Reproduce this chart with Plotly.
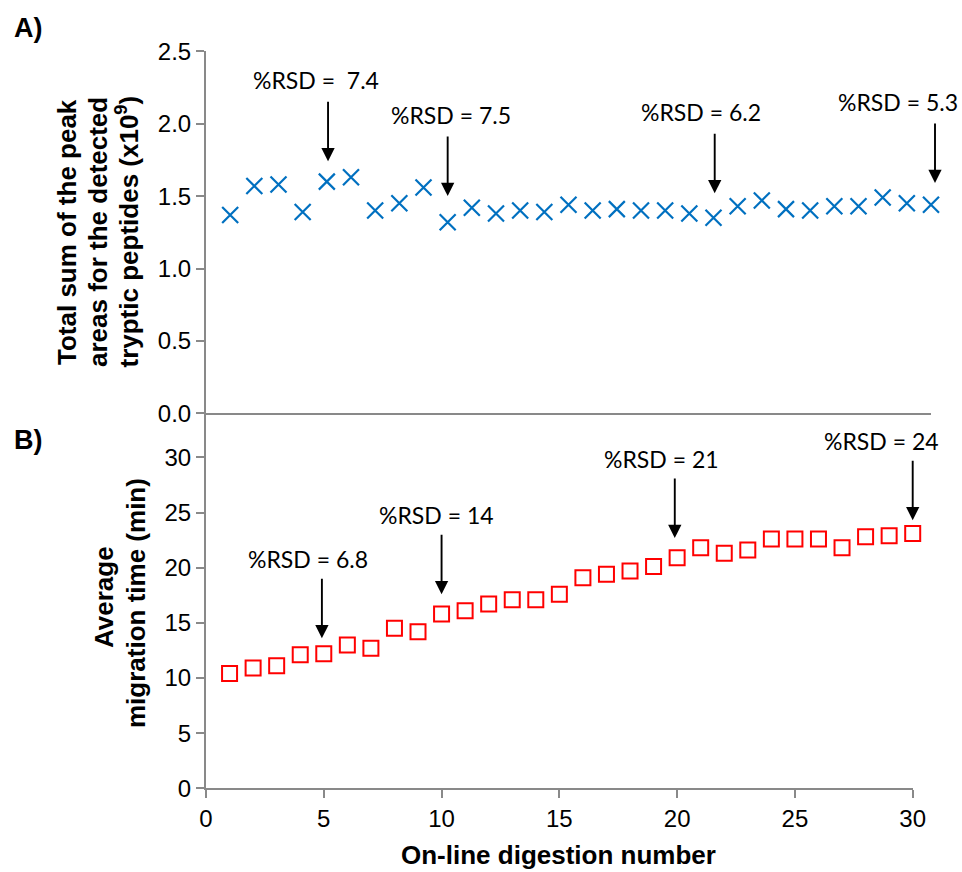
import plotly.graph_objects as go

# ---- data ----
digestion = list(range(1, 31))
peak_area_sum = [1.37, 1.57, 1.58, 1.39, 1.60, 1.63, 1.40, 1.45, 1.56, 1.32,
                 1.42, 1.38, 1.40, 1.39, 1.44, 1.40, 1.41, 1.40, 1.40, 1.38,
                 1.35, 1.43, 1.47, 1.41, 1.40, 1.43, 1.43, 1.49, 1.45, 1.44]
migration_time = [10.4, 10.9, 11.1, 12.1, 12.2, 13.0, 12.7, 14.5, 14.2, 15.8,
                  16.1, 16.7, 17.1, 17.1, 17.6, 19.1, 19.4, 19.7, 20.1, 20.9,
                  21.8, 21.3, 21.6, 22.6, 22.6, 22.6, 21.8, 22.8, 22.9, 23.1]

rsd_a_labels = ["%RSD =  7.4", "%RSD = 7.5", "%RSD = 6.2", "%RSD = 5.3"]
rsd_a_x = [5.05, 10.0, 21.05, 30.0]
rsd_a_tip = [1.74, 1.50, 1.52, 1.59]

rsd_b_labels = ["%RSD = 6.8", "%RSD = 14", "%RSD = 21", "%RSD = 24"]
rsd_b_x = [4.92, 10.0, 19.9, 30.0]
rsd_b_tip = [13.6, 17.6, 22.7, 24.3]

yticks_a = [0.0, 0.5, 1.0, 1.5, 2.0, 2.5]
yticks_b = [0, 5, 10, 15, 20, 25, 30]
xticks_b = [0, 5, 10, 15, 20, 25, 30]

# body margin is removed (post_script) so the figure fills the 962x872 window
W, H = 962, 872
def px(x):
    return x / W
def py(y):
    return 1 - y / H

axis_color = "#898989"
tick_font = dict(family="Liberation Sans, Arial", size=24, color="black")
ann_font = dict(family="Lato, Open Sans", size=23, color="black")
title_font = dict(family="Liberation Sans, Arial", size=26, color="black")
panel_font = dict(family="Liberation Sans, Arial", size=27, color="black")

fig = go.Figure()
fig.add_trace(go.Scatter(
    x=digestion, y=peak_area_sum, mode="markers", xaxis="x", yaxis="y",
    cliponaxis=False,
    marker=dict(symbol="x-thin", size=16, line=dict(color="#0070C0", width=2.2)),
    showlegend=False))
fig.add_trace(go.Scatter(
    x=digestion, y=migration_time, mode="markers", xaxis="x2", yaxis="y2",
    cliponaxis=False,
    marker=dict(symbol="square-open", size=15, color="#FF0000",
                line=dict(color="#FF0000", width=2)),
    showlegend=False))

common_axis = dict(showline=True, linecolor=axis_color, linewidth=2,
                   showgrid=False, zeroline=False, mirror=False)

fig.update_layout(
    width=W, height=H,
    margin=dict(l=0, r=0, t=0, b=0, autoexpand=False),
    paper_bgcolor="white", plot_bgcolor="white",
    xaxis=dict(domain=[px(206), px(931)], range=[0, 30], anchor="y",
               showticklabels=False, ticks="", **common_axis),
    yaxis=dict(domain=[py(413.3), py(51.3)], range=[0, 2.5], anchor="x",
               tickvals=yticks_a, ticktext=[f"{v:.1f}" for v in yticks_a],
               ticks="outside", ticklen=8, tickwidth=2, tickcolor=axis_color,
               tickfont=tick_font, **common_axis),
    xaxis2=dict(domain=[px(206), px(912.7)], range=[0, 30], anchor="y2",
                tickvals=xticks_b, ticks="outside", ticklen=8, tickwidth=2,
                tickcolor=axis_color, tickfont=tick_font, **common_axis),
    yaxis2=dict(domain=[py(788.3), py(413.3)], range=[0, 34], anchor="x2",
                tickvals=yticks_b, ticks="outside", ticklen=8, tickwidth=2,
                tickcolor=axis_color, tickfont=tick_font, **common_axis),
)

annotations = []
shift_a = [-12, 3, -14, -37]
shift_b = [-14, -5, -13, -31]
tipx_a = [0, 0, 0, 4]
for lab, xv, tip, sx, tx in zip(rsd_a_labels, rsd_a_x, rsd_a_tip, shift_a, tipx_a):
    annotations.append(dict(x=xv, y=tip, xref="x", yref="y", text="",
                            showarrow=True, arrowhead=2, arrowsize=1.4,
                            arrowwidth=1.9, arrowcolor="black", ax=0, ay=-61,
                            xshift=tx))
    annotations.append(dict(x=xv, y=tip, xref="x", yref="y", text=lab,
                            showarrow=False, yshift=81, xshift=sx + tx,
                            font=ann_font))
for lab, xv, tip, sx in zip(rsd_b_labels, rsd_b_x, rsd_b_tip, shift_b):
    annotations.append(dict(x=xv, y=tip, xref="x2", yref="y2", text="",
                            showarrow=True, arrowhead=2, arrowsize=1.4,
                            arrowwidth=1.9, arrowcolor="black", ax=0, ay=-61))
    annotations.append(dict(x=xv, y=tip, xref="x2", yref="y2", text=lab,
                            showarrow=False, yshift=79, xshift=sx,
                            font=ann_font))

# axis titles (one annotation per line for tight line spacing)
title_a = ["Total sum of the peak", "areas for the detected",
           "tryptic peptides (x10<sup>9</sup>)"]
for line, cx in zip(title_a, [67, 98, 128.5]):
    annotations.append(dict(x=px(cx), y=py(232), xref="paper", yref="paper",
                            text=f"<b>{line}</b>", textangle=-90, showarrow=False,
                            font=title_font, xanchor="center", yanchor="middle"))
title_b = ["Average", "migration time (min)"]
for line, cx, cy in zip(title_b, [104, 136], [597, 603]):
    annotations.append(dict(x=px(cx), y=py(cy), xref="paper", yref="paper",
                            text=f"<b>{line}</b>", textangle=-90, showarrow=False,
                            font=title_font, xanchor="center", yanchor="middle"))
annotations.append(dict(x=px(558), y=py(855), xref="paper", yref="paper",
                        text="<b>On-line digestion number</b>",
                        showarrow=False, font=title_font,
                        xanchor="center", yanchor="middle"))
annotations.append(dict(x=px(12), y=py(28), xref="paper", yref="paper",
                        text="<b>A)</b>", showarrow=False, font=panel_font,
                        xanchor="left", yanchor="middle"))
annotations.append(dict(x=px(12), y=py(440), xref="paper", yref="paper",
                        text="<b>B)</b>", showarrow=False, font=panel_font,
                        xanchor="left", yanchor="middle"))

fig.update_layout(annotations=annotations)
fig.write_html(
    "out.html",
    config={"displayModeBar": False},
    post_script="document.body.style.margin='0';document.body.style.overflow='hidden';",
)
